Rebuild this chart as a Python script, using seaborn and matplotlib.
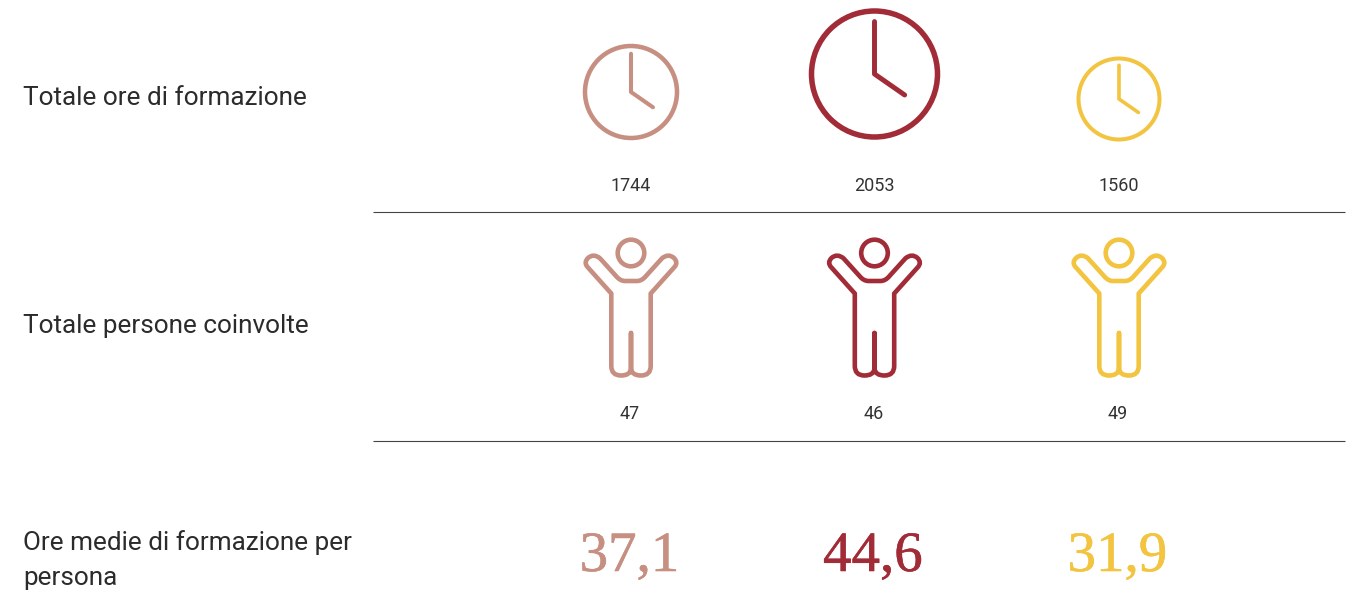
import numpy as np
import pandas as pd
import seaborn as sns
import matplotlib.pyplot as plt
import matplotlib.patheffects as pe
from matplotlib.path import Path

# Data
row_labels = ["Totale ore di formazione", "Totale persone coinvolte", "Ore medie di formazione per\npersona"]
ore_totali = [1744, 2053, 1560]
persone = [47, 46, 49]
ore_medie = ["37,1", "44,6", "31,9"]

# Layout, in pixels of the 1347x592 picture
colors = ["#c68f81", "#a12b36", "#f2c440"]
col_x = [631, 874.5, 1119]
clock_y = [92, 74, 99]
clock_r = [46, 63, 40.5]
clock_lw = [4.5, 5.5, 4]
PX = 0.72  # one pixel in points at dpi 100

sns.set_style("white")
plt.rcParams["font.family"] = ["Roboto", "DejaVu Sans"]

fig, ax = plt.subplots(figsize=(13.47, 5.92), dpi=100)
ax.set_position([0, 0, 1, 1])
ax.set_xlim(0, 1347)
ax.set_ylim(592, 0)
ax.axis("off")


def draw_line(xs, ys, color, lw):
    sns.lineplot(x=xs, y=ys, sort=False, estimator=None, color=color, linewidth=lw * PX,
                 solid_capstyle="round", solid_joinstyle="round", legend=False, ax=ax)


def draw_ring(x, y, r, color, lw):
    sns.scatterplot(x=[x], y=[y], s=(2 * r * PX) ** 2, marker="o", facecolor="none",
                    edgecolor=color, linewidth=lw * PX, legend=False, ax=ax)


# Left half of the person, from the crotch to the middle of the shoulders
person_verts = [(0, 80), (0, 116), (-1, 122.5), (-10, 122.5), (-19.7, 122.5), (-19.7, 113),
                (-19.7, 40.5), (-43.5, 14), (-47.5, 9.5), (-43, 5), (-37.5, 0), (-31, 5.3),
                (-15, 23), (-11, 28), (-6, 28), (0, 28)]
person_codes = [Path.MOVETO, Path.LINETO, Path.CURVE3, Path.CURVE3, Path.CURVE3, Path.CURVE3,
                Path.LINETO, Path.LINETO, Path.CURVE3, Path.CURVE3, Path.CURVE3, Path.CURVE3,
                Path.LINETO, Path.CURVE3, Path.CURVE3, Path.LINETO]
half = Path(person_verts, person_codes).to_polygons(closed_only=False)[0]
outline = np.vstack([half, half[::-1][1:] * [-1, 1]])

for i, color in enumerate(colors):
    x = col_x[i]

    # clock
    y, r = clock_y[i], clock_r[i]
    draw_ring(x, y, r, color, clock_lw[i])
    draw_line([x, x, x + 0.46 * r * 1.04], [y - 0.8 * r * 1.04, y, y + 0.32 * r * 1.04], color, clock_lw[i] * 0.9)
    ax.text(x - 0.5, 186, str(ore_totali[i]), ha="center", va="center", fontsize=13, color="#333333")

    # person
    draw_ring(x, 253, 13.3, color, 4.6)
    draw_line(x + outline[:, 0], 253 + outline[:, 1], color, 4.6)
    ax.text(x - 1, 414, str(persone[i]), ha="center", va="center", fontsize=13, color="#333333")

    # average
    ax.text(x - 1.5, 557, ore_medie[i], ha="center", va="center", fontsize=41,
            family=["Liberation Serif", "DejaVu Serif"], color=color,
            path_effects=[pe.withStroke(linewidth=0.4, foreground=color)])

ax.hlines([212, 440.5], 373, 1345, color="#444444", linewidth=0.8)

ax.text(23, 98, row_labels[0], va="center", fontsize=18.8, color="#2b2b2b")
ax.text(23, 326, row_labels[1], va="center", fontsize=18.8, color="#2b2b2b")
ax.text(23, 560, row_labels[2], va="center", fontsize=18.8, color="#2b2b2b", linespacing=1.55)

fig.savefig("out.png", dpi=100)
